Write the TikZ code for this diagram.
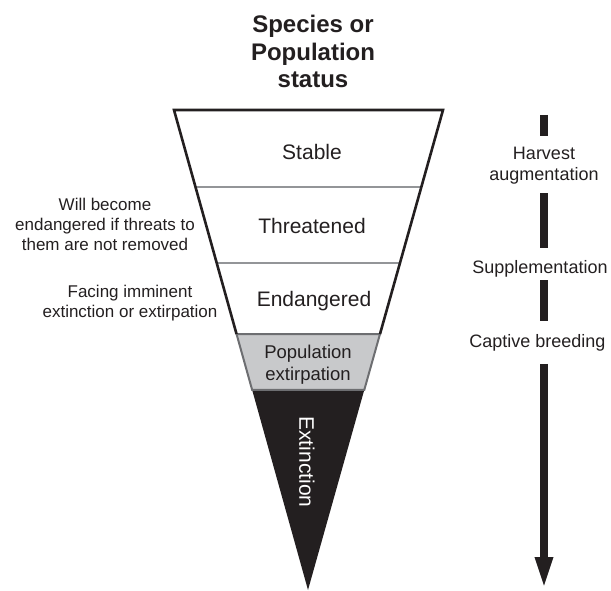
\documentclass[tikz,border=0pt]{standalone}
\usepackage{fontspec}
\setmainfont{Liberation Sans}
\usetikzlibrary{arrows.meta,calc}
\definecolor{ink}{HTML}{231F20}
\definecolor{bandfill}{HTML}{C8C9CB}
\definecolor{bandline}{HTML}{6D6E71}
\definecolor{sepline}{HTML}{939598}
\tikzset{
  lbl/.style={inner sep=0pt, text=ink},
  titletext/.style={lbl, font=\bfseries\fontsize{24}{27.5}\selectfont, align=center},
  level/.style={lbl, font=\fontsize{21}{25}\selectfont},
  bandtext/.style={lbl, font=\fontsize{18.5}{22}\selectfont, align=center},
  note/.style={lbl, font=\fontsize{17}{20}\selectfont, align=center},
  action/.style={lbl, font=\fontsize{18}{21}\selectfont, align=center},
  bar/.style={draw=ink, line width=8pt, line cap=butt},
}
\begin{document}
\begin{tikzpicture}[x=1pt,y=-1pt]
\useasboundingbox (0,0) rectangle (611,591);
% funnel corners
\coordinate (TL) at (174,110);
\coordinate (TR) at (443,110);
\coordinate (AP) at (308,590);
\coordinate (L1) at ($(TL)!0.1604!(AP)$);
\coordinate (R1) at ($(TR)!0.1604!(AP)$);
\coordinate (L2) at ($(TL)!0.31875!(AP)$);
\coordinate (R2) at ($(TR)!0.31875!(AP)$);
\coordinate (L4) at ($(TL)!0.4667!(AP)$);
\coordinate (R4) at ($(TR)!0.4667!(AP)$);
\coordinate (L5) at ($(TL)!0.5833!(AP)$);
\coordinate (R5) at ($(TR)!0.5833!(AP)$);
% extinction (black)
\fill[ink] (L5) -- (R5) -- (AP) -- cycle;
% population extirpation band
\filldraw[fill=bandfill, draw=bandline, line width=2pt, line join=miter] (L4) -- (R4) -- (R5) -- (L5) -- cycle;
% separators
\draw[sepline, line width=1.5pt] (L1) -- (R1);
\draw[sepline, line width=1.5pt] (L2) -- (R2);
% outline
\draw[ink, line width=2.6pt, line join=miter] (L4) -- (TL) -- (TR) -- (R4);

% title
\node[titletext, anchor=base] (title) at (313,88) {Species or\\Population\\status};

% levels
\node[level, anchor=base] (stable) at (312,159.5) {Stable};
\node[level, anchor=base] (threat) at (312,233.5) {Threatened};
\node[level, anchor=base] (endang) at (314,306.5) {Endangered};
\node[bandtext, anchor=base] (extirp) at (308,380) {Population\\extirpation};
\node[level, text=white, rotate=-90] (extinct) at (307,462) {Extinction};

% notes
\node[note, anchor=base] (note1) at (105,251) {Will become\\endangered if threats to\\them are not removed};
\node[note, anchor=base] (note2) at (130,317) {Facing imminent\\extinction or extirpation};

% actions
\coordinate (bartop) at (544,115);
\coordinate (tip) at (544,590);
\node[action, anchor=base] (harv) at (544,181) {Harvest\\augmentation};
\node[action, anchor=base] (supp) at (540,273.3) {Supplementation};
\node[action, anchor=base] (capt) at (537.5,347) {Captive breeding};

\draw[bar, shorten >=11pt] (bartop) -- (bartop |- harv.north);
\draw[bar, shorten <=8.2pt, shorten >=12.4pt] (bartop |- harv.south) -- (bartop |- supp.north);
\draw[bar, shorten <=2.9pt, shorten >=13.1pt] (bartop |- supp.south) -- (bartop |- capt.north);
\draw[bar, shorten <=13pt, -{Triangle[width=16pt,length=33pt]}] (bartop |- capt.south) -- (tip);
\end{tikzpicture}
\end{document}
